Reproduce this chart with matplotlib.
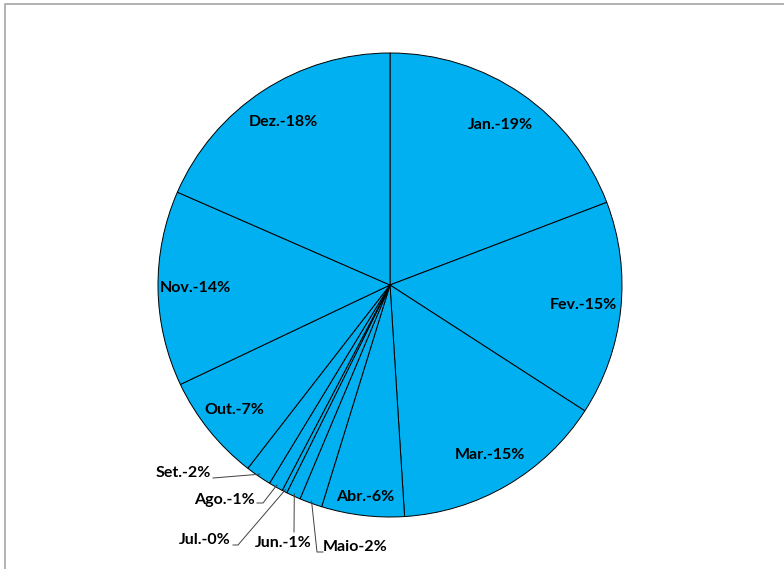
import numpy as np
import matplotlib
matplotlib.use("Agg")
import matplotlib.pyplot as plt
from matplotlib.lines import Line2D

months = ["Jan.", "Fev.", "Mar.", "Abr.", "Maio", "Jun.", "Jul.", "Ago.", "Set.", "Out.", "Nov.", "Dez."]
shares = [19.2, 14.93, 14.87, 5.76, 1.58, 1.0, 0.35, 1.0, 1.81, 7.45, 13.6, 18.45]

W, H = 784, 569
cx, cy, R = 390, 285, 232

fig = plt.figure(figsize=(W / 100, H / 100), dpi=100)
ax = fig.add_axes([0, 0, 1, 1])

wedges, _ = ax.pie(shares, startangle=90, counterclock=False, radius=1,
                   colors=["#00B0F0"] * len(shares),
                   wedgeprops=dict(edgecolor="black", linewidth=0.7))
ax.set_aspect("auto")
ax.set_xlim(-cx / R, (W - cx) / R)
ax.set_ylim(-(H - cy) / R, cy / R)
ax.axis("off")

font = dict(family=["Lato", "DejaVu Sans"], fontweight="bold", fontsize=11.5, color="black")

labels = [f"{m}-{round(v):.0f}%" for m, v in zip(months, shares)]

# inside labels (radius fraction)
inside = {0: 0.84, 1: 0.84, 2: 0.85, 3: 0.92, 9: 0.86, 10: 0.84, 11: 0.84}
for i, w in enumerate(wedges):
    mid = np.deg2rad((w.theta1 + w.theta2) / 2)
    if i in inside:
        r = inside[i]
        ax.text(r * np.cos(mid), r * np.sin(mid), labels[i], ha="center", va="center", **font)

def px(x, y):
    return ((x - cx) / R, (cy - y) / R)

outside = {
    4: ((323, 547), "left", [(323, 552), (317, 552)]),
    5: ((283, 543), "center", [(294, 532)]),
    6: ((231, 540), "right", [(233, 545), (238, 545)]),
    7: ((255, 500), "right", [(257, 503), (263, 503)]),
    8: ((211, 473), "right", [(213, 478)]),
}
for i, ((tx, ty), ha, path) in outside.items():
    w = wedges[i]
    mid = np.deg2rad((w.theta1 + w.theta2) / 2)
    ex, ey = 0.99 * np.cos(mid), 0.99 * np.sin(mid)
    x0, y0 = px(tx, ty)
    ax.text(x0, y0, labels[i], ha=ha, va="center", **font)
    pts = [px(*p) for p in path] + [(ex, ey)]
    ax.add_line(Line2D([p[0] for p in pts], [p[1] for p in pts], color="#404040", linewidth=0.7))

# chart area border (partially visible)
fig.add_artist(Line2D([5 / W, 5 / W, 1.0], [0.0, 1 - 4 / H, 1 - 4 / H],
                      transform=fig.transFigure, color="#A6A6A6", linewidth=1.2))

fig.savefig("out.png", dpi=100, facecolor="white")
